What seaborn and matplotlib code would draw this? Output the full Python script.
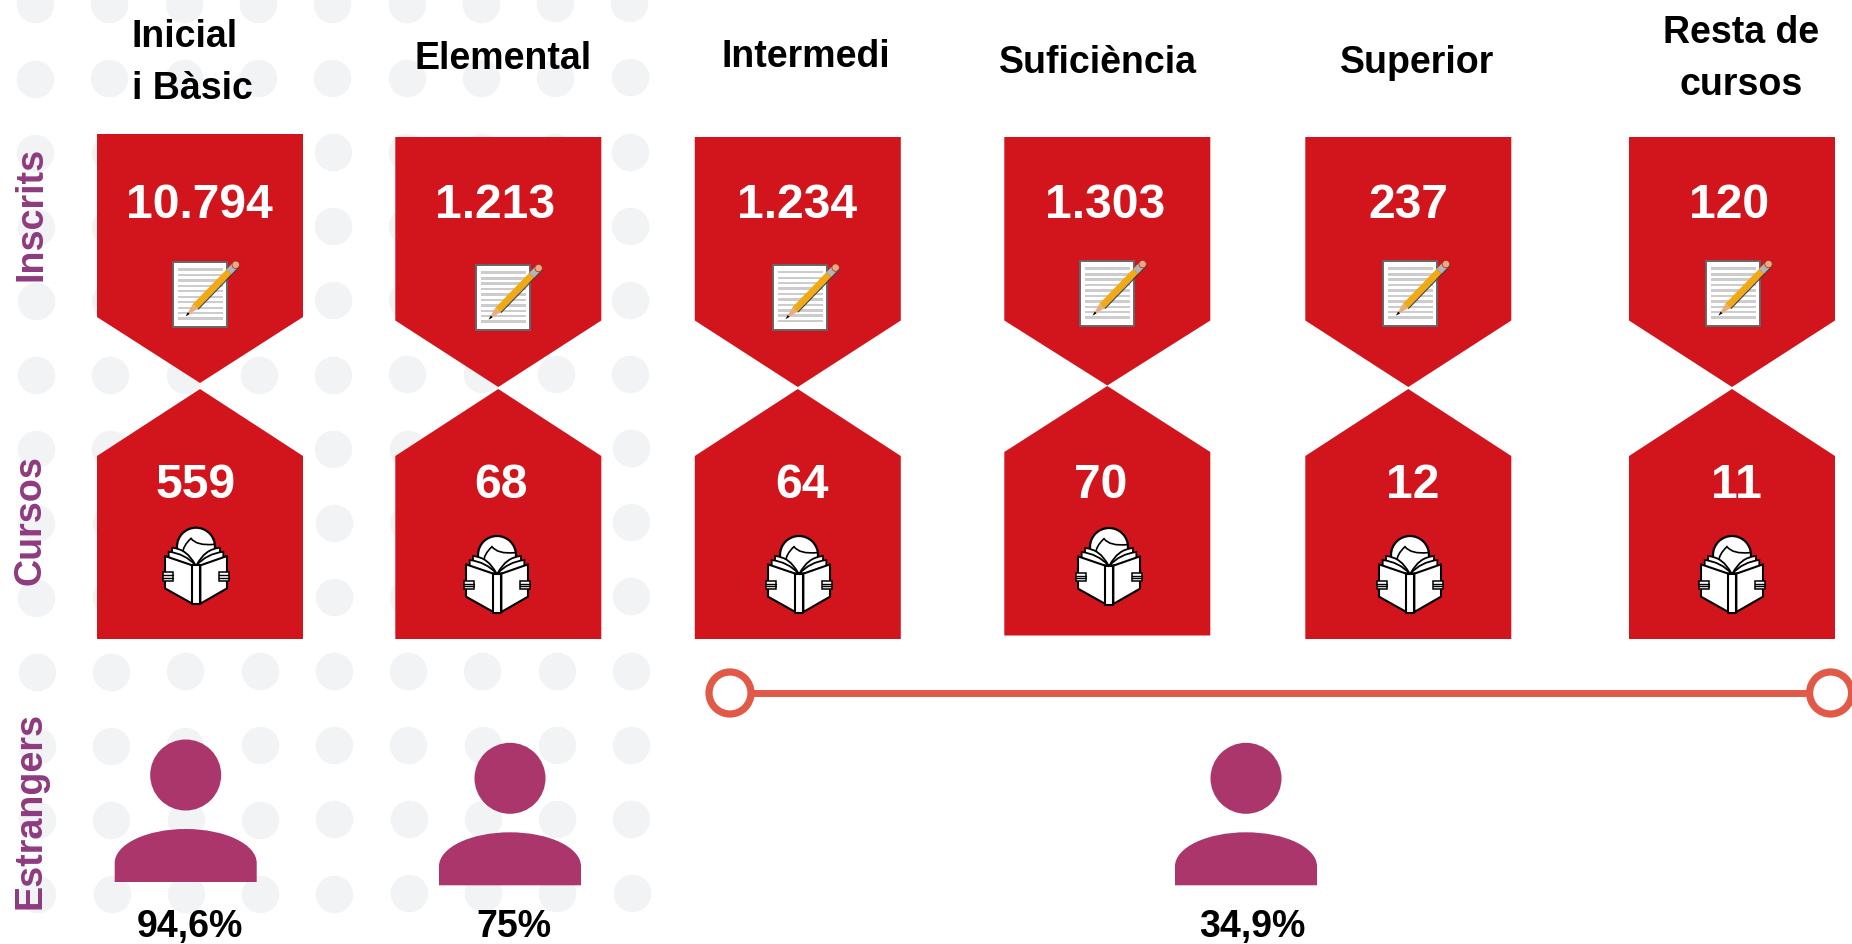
import numpy as np
import pandas as pd
import matplotlib
matplotlib.use("Agg")
import matplotlib.pyplot as plt
from matplotlib.patches import Polygon, Rectangle, Ellipse, Circle, PathPatch
from matplotlib.path import Path
import seaborn as sns

# ---------- data ----------
categories = ["Inicial\ni Bàsic", "Elemental", "Intermedi", "Suficiència", "Superior", "Resta de\ncursos"]
inscrits = [10794, 1213, 1234, 1303, 237, 120]
cursos = [559, 68, 64, 70, 12, 11]
estrangers = [94.6, 75, 34.9]
row_labels = ["Inscrits", "Cursos", "Estrangers"]

# ---------- layout (pixels) ----------
box_left = [97, 395.3, 694.8, 1004.3, 1305.3, 1629]
box_w = 206
top_y = [134, 137, 137, 137, 137, 137]
sh_top = [317, 320.5, 320.5, 320.5, 320.5, 320.5]
tip_top = [383, 387, 387, 385.5, 387, 387]
tip_bot = [389, 389, 389, 386, 389, 389]
sh_bot = [456, 456, 456, 452, 456, 456]
bot_y = [639, 639, 639, 635.5, 639, 639]
val_x1 = [199.6, 495.5, 797, 1105, 1408, 1729]
val_x2 = [196, 501, 802, 1101, 1412.6, 1736]
val_y1 = [218] * 6
val_y2 = [498.5] * 6
paper_xy = [(172.7, 261.7), (475.6, 265), (772.6, 264.5), (1079.6, 261), (1383, 261), (1705.5, 261)]
reader_xy = [(195, 527.7), (496, 536), (798, 536), (1108, 528), (1409, 536), (1731, 536)]
cat_pos = [(132, 46.7, 'left'), (503.5, 69, 'center'), (806, 67, 'center'), (1098, 73, 'center'),
           (1417, 73, 'center'), (1741, 43, 'center')]
person_x = [185.7, 510, 1246]
person_y = [775, 778.3, 778.3]
pct_x = [190, 514, 1252]
pct_y = 937

RED = "#d2141c"
PURPLE = "#8e3a80"
PERSON = "#aa366b"
LINE = "#e05a47"
DOT = "#f1f3f5"

sns.set_theme(style="white")
plt.rcParams['font.family'] = ['Liberation Sans', 'DejaVu Sans']

fig = plt.figure(figsize=(18.52, 9.44), dpi=100)
ax = fig.add_axes([0, 0, 1, 1])
ax.set_xlim(0, 1852)
ax.set_ylim(944, 0)
ax.axis("off")

# background dots
gx, gy = np.meshgrid(np.arange(9), np.arange(13))
bx = 35 + 74.3 * gx.ravel()
by = 4.5 + 74.15 * gy.ravel()
dots = pd.DataFrame({"x": bx + 0.0025 * by, "y": by - 0.002 * bx})
sns.scatterplot(data=dots, x="x", y="y", s=(37.5 * 0.72) ** 2, color=DOT, linewidth=0, ax=ax, zorder=1, legend=False)
ax.set_xlim(0, 1852)
ax.set_ylim(944, 0)
ax.set_xlabel("")
ax.set_ylabel("")


def paper_icon(x0, y0):
    ax.add_patch(Rectangle((x0, y0), 54.3, 65, fc="white", ec="#666666", lw=1.4, zorder=4))
    for dy in [7.6, 13.3, 18.6, 24, 29.3, 35, 40.3, 46, 51, 56.6]:
        ax.add_patch(Rectangle((x0 + 5.3, y0 + dy - 1.2), 44.7, 2.5, fc="#cccccc", ec="none", zorder=5))
    tip = np.array([x0 + 13.3, y0 + 54.3])
    end = np.array([x0 + 66.5, y0 - 0.5])
    u = (end - tip) / np.linalg.norm(end - tip)
    n = np.array([-u[1], u[0]])
    L = np.linalg.norm(end - tip)
    w = 3.4

    def seg(a, b, col):
        pts = [tip + u * a + n * w, tip + u * b + n * w, tip + u * b - n * w, tip + u * a - n * w]
        ax.add_patch(Polygon(pts, fc=col, ec="none", zorder=6))

    ax.add_patch(Polygon([tip, tip + u * 13 + n * w, tip + u * 13 - n * w], fc="#e8ad7c", ec="none", zorder=6))
    ax.add_patch(Polygon([tip - u * 0.5, tip + u * 4 + n * 1.3, tip + u * 4 - n * 1.3], fc="black", ec="none", zorder=7))
    seg(13, L - 15, "#f2aa14")
    pts = [tip + u * 13 + n * (w + 1.2), tip + u * (L - 4) + n * (w + 1.2), tip + u * (L - 4) + n * w, tip + u * 13 + n * w]
    ax.add_patch(Polygon(pts, fc="#444444", ec="none", zorder=6))
    seg(L - 15, L - 6, "#b5b5b5")
    ax.add_patch(Circle(tip + u * (L - 5), w + 0.3, fc="#f5a57e", ec="#7a3b2a", lw=0.5, zorder=6))


def reader_icon(cx, top):
    def T(p):
        return [(cx + (a - 135) / 3, top + (b - 40) / 3) for a, b in p]

    def poly(p, fc="white", lw=1.5, z=4):
        ax.add_patch(Polygon(T(p), fc=fc, ec="black", lw=lw, joinstyle="round", zorder=z))

    def page(p0, c0, p1, z=5):
        v = T([p0, c0, p1, (p0[0], p1[1])])
        codes = [Path.MOVETO, Path.CURVE3, Path.CURVE3, Path.LINETO, Path.CLOSEPOLY]
        ax.add_patch(PathPatch(Path(v + [v[0]], codes), fc="white", ec="black", lw=1.3, zorder=z))

    c = T([(138, 97)])[0]
    ax.add_patch(Ellipse(c, 114 / 3, 114 / 3, fc="white", ec="black", lw=1.6, zorder=4))
    hair = T([(98, 118), (98, 95), (123, 72), (140, 95), (192, 90)])
    codes = [Path.MOVETO, Path.CURVE3, Path.CURVE3, Path.CURVE3, Path.CURVE3]
    ax.add_patch(PathPatch(Path(hair, codes), fc="none", ec="black", lw=1.2, zorder=5))
    page((66, 100), (112, 104), (136, 152))
    page((210, 100), (164, 104), (140, 152))
    page((56, 112), (105, 118), (136, 152), 5.5)
    page((220, 112), (171, 118), (140, 152), 5.5)
    poly([(45, 125), (127, 153), (127, 268), (45, 222)], z=6)
    poly([(231, 125), (151, 153), (151, 268), (231, 222)], z=6)
    poly([(127, 153), (151, 153), (151, 270), (127, 270)], z=6)
    for xa in [(40, 70), (206, 236)]:
        ax.add_patch(Rectangle((cx + (xa[0] - 135) / 3, top + (174 - 40) / 3), (xa[1] - xa[0]) / 3, 26 / 3,
                               fc="white", ec="black", lw=1.1, zorder=7))
        for yy in [183, 191]:
            ax.plot([cx + (xa[0] - 135) / 3, cx + (xa[1] - 135) / 3], [top + (yy - 40) / 3] * 2, color="black", lw=1.0, zorder=8)


def person(cx, hy):
    ax.add_patch(Ellipse((cx, hy), 71, 71, fc=PERSON, ec="none", zorder=3))
    l, r = cx - 71, cx + 71
    t, s, b = hy + 54, hy + 88, hy + 107
    k = 0.5523
    verts = [(l, b), (l, s), (l, s - k * (s - t)), (cx - k * 71, t), (cx, t), (cx + k * 71, t), (r, s - k * (s - t)),
             (r, s), (r, b), (l, b)]
    codes = [Path.MOVETO, Path.LINETO, Path.CURVE4, Path.CURVE4, Path.CURVE4, Path.CURVE4, Path.CURVE4, Path.CURVE4,
             Path.LINETO, Path.CLOSEPOLY]
    ax.add_patch(PathPatch(Path(verts, codes), fc=PERSON, ec="none", zorder=3))


def thou(v):
    return f"{v:,}".replace(",", ".")


for i, cat in enumerate(categories):
    l, r = box_left[i], box_left[i] + box_w
    m = (l + r) / 2
    ax.add_patch(Polygon([(l, top_y[i]), (r, top_y[i]), (r, sh_top[i]), (m, tip_top[i]), (l, sh_top[i])],
                         fc=RED, ec="none", zorder=2))
    ax.add_patch(Polygon([(m, tip_bot[i]), (r, sh_bot[i]), (r, bot_y[i]), (l, bot_y[i]), (l, sh_bot[i])],
                         fc=RED, ec="none", zorder=2))
    ax.text(val_x1[i], val_y1[i], thou(inscrits[i]), color="white", fontsize=34.6, fontweight="bold",
            ha="center", va="baseline", zorder=9)
    ax.text(val_x2[i], val_y2[i], thou(cursos[i]), color="white", fontsize=34.6, fontweight="bold",
            ha="center", va="baseline", zorder=9)
    paper_icon(*paper_xy[i])
    reader_icon(*reader_xy[i])
    cx, cy, ha = cat_pos[i]
    lines = cat.split("\n")
    gap = 52
    for k, line in enumerate(lines):
        ax.text(cx, cy + k * gap, line, color="black", fontsize=27, fontweight="bold", ha=ha, va="baseline", zorder=9)

# row labels
for lab, yc, xc in zip(row_labels, [213.5, 520.5, 810.5], [31, 31, 30.5]):
    ax.text(xc, yc, lab, color=PURPLE, fontsize=27.2, fontweight="bold", rotation=90, ha="center", va="center", zorder=9)

# connector
conn = pd.DataFrame({"x": [730, 1830.6], "y": [693, 693]})
sns.lineplot(data=conn, x="x", y="y", color=LINE, linewidth=5, ax=ax, zorder=3, legend=False)
ax.set_xlim(0, 1852)
ax.set_ylim(944, 0)
ax.set_xlabel("")
ax.set_ylabel("")
ax.add_patch(Circle((730, 693), 21, fc="white", ec=LINE, lw=5.2, zorder=4))
ax.add_patch(Circle((1830.6, 693), 21, fc="white", ec=LINE, lw=5.2, zorder=4))

# foreign students
for x, y, v, tx in zip(person_x, person_y, estrangers, pct_x):
    person(x, y)
    s = f"{v:g}".replace(".", ",") + "%"
    ax.text(tx, pct_y, s, color="black", fontsize=27, fontweight="bold", ha="center", va="baseline", zorder=9)

fig.savefig("out.png", dpi=100, facecolor="white")
